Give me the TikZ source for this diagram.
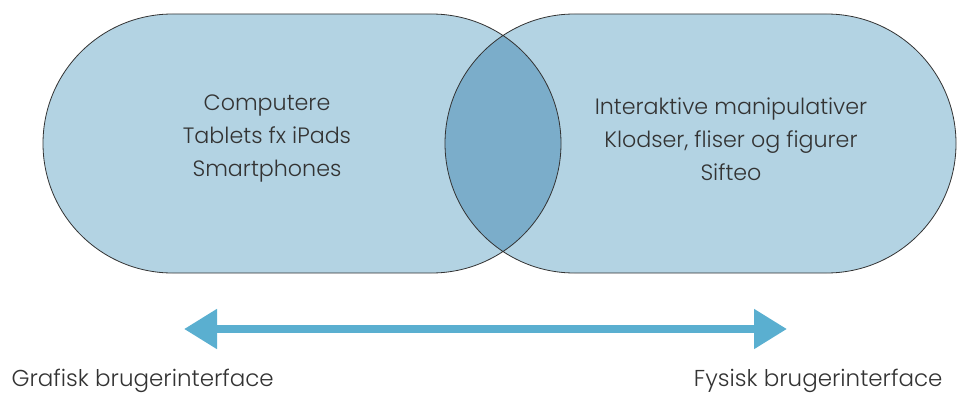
\documentclass[tikz,border=0pt]{standalone}
\usepackage{fontspec}
\setmainfont{Poppins}[UprightFont={* Light}]
\usetikzlibrary{arrows.meta}
\definecolor{lysblaa}{HTML}{B3D3E3}
\definecolor{morkblaa}{HTML}{7BADCA}
\definecolor{pilblaa}{HTML}{5AAFD0}
\definecolor{tekst}{HTML}{333333}
\begin{document}
\begin{tikzpicture}[x=1pt,y=-1pt,line cap=round,line join=round,
    felt/.style={rounded corners=129.5pt},
    tekstboks/.style={align=center,text=tekst,font=\fontsize{22.2}{33}\selectfont},
    etiket/.style={text=tekst,font=\fontsize{23}{28}\selectfont,anchor=base west}]
      \useasboundingbox (0,0) rectangle (957,393);
      % de to felter
      \fill[lysblaa,felt] (43,14) rectangle (561,273);
      \fill[lysblaa,felt] (445,14) rectangle (956,273);
      \begin{scope}
        \clip[felt] (43,14) rectangle (561,273);
        \fill[morkblaa,felt] (445,14) rectangle (956,273);
      \end{scope}
      \draw[black!80,line width=0.8pt,felt] (43,14) rectangle (561,273)
            (445,14) rectangle (956,273);
      
      \node[tekstboks] (graf) at (267,139) {Computere\\Tablets fx iPads\\Smartphones};
      \node[tekstboks] (fys) at (731,139) {Interaktive manipulativer\\Klodser, fliser og figurer\\Sifteo};
      
      % pilen
      \coordinate (V) at (184,329);
      \coordinate (H) at (787,329);
      \draw[pilblaa,line width=8pt,line cap=butt,
            {Triangle[length=33pt,width=38pt]}-{Triangle[length=33pt,width=38pt]}] (V)--(H);
      \node[etiket] (gbi) at (8,386) {Grafisk brugerinterface};
      \node[etiket,anchor=base east] (fbi) at (946,386) {Fysisk brugerinterface};
\end{tikzpicture}
\end{document}
